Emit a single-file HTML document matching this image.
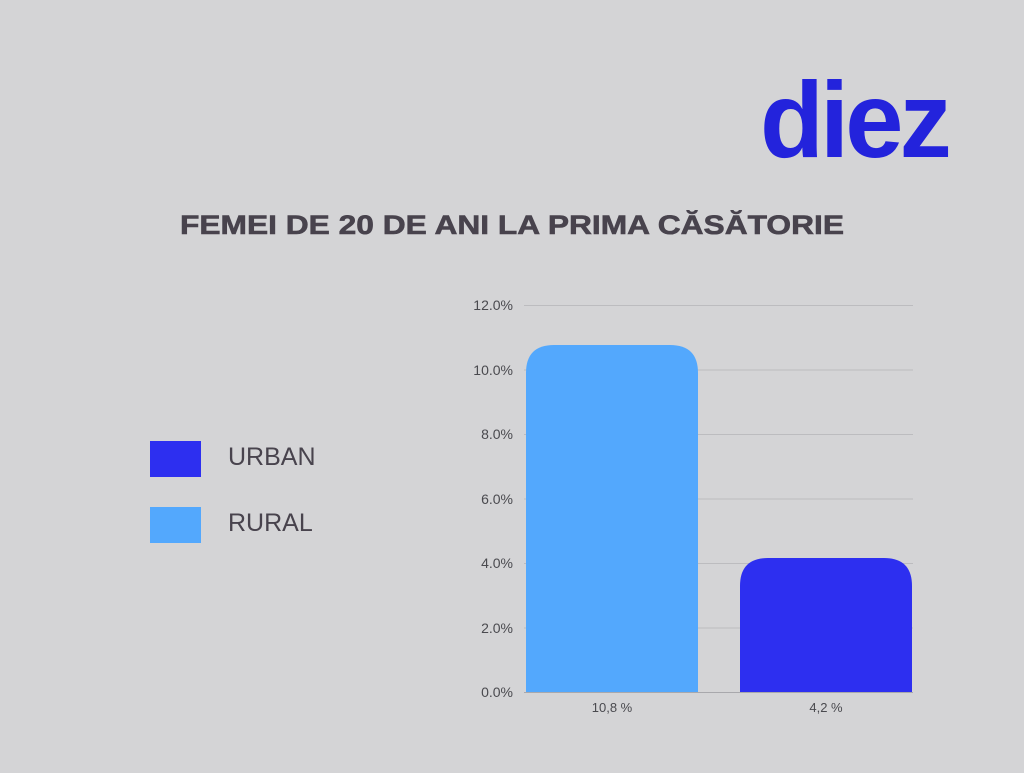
<!DOCTYPE html>
<html><head><meta charset="utf-8"><style>
body{margin:0;background:#d4d4d6;}
</style></head><body>
<svg width="1024" height="768" xmlns="http://www.w3.org/2000/svg" font-family="Liberation Sans, sans-serif">
<rect width="1024" height="768" fill="#d4d4d6"/>
<text x="760" y="157" font-size="108" font-weight="bold" fill="#2323dc" textLength="188" lengthAdjust="spacingAndGlyphs" letter-spacing="-4">diez</text>
<text x="512" y="234" text-anchor="middle" font-size="27" font-weight="bold" fill="#48434d" stroke="#48434d" stroke-width="0.6" textLength="664" lengthAdjust="spacingAndGlyphs">FEMEI DE 20 DE ANI LA PRIMA CĂSĂTORIE</text>
<g stroke="#bcbcbf" stroke-width="1">
<line x1="524" y1="305.5" x2="913" y2="305.5"/>
<line x1="524" y1="370" x2="913" y2="370"/>
<line x1="524" y1="434.5" x2="913" y2="434.5"/>
<line x1="524" y1="499" x2="913" y2="499"/>
<line x1="524" y1="563.5" x2="913" y2="563.5"/>
<line x1="524" y1="628" x2="913" y2="628"/>
</g>
<g font-size="14" fill="#4a4a4f" text-anchor="end">
<text x="513" y="310">12.0%</text>
<text x="513" y="375">10.0%</text>
<text x="513" y="439">8.0%</text>
<text x="513" y="504">6.0%</text>
<text x="513" y="568">4.0%</text>
<text x="513" y="633">2.0%</text>
<text x="513" y="697">0.0%</text>
</g>
<path d="M526 692 V373 Q526 345 554 345 H670 Q698 345 698 373 V692 Z" fill="#53a8fd"/>
<path d="M740 692 V586 Q740 558 768 558 H884 Q912 558 912 586 V692 Z" fill="#2d2ff0"/>
<line x1="524" y1="692.5" x2="913" y2="692.5" stroke="#a8a8ac" stroke-width="1"/>
<g font-size="13" fill="#4a4a4f" text-anchor="middle">
<text x="612" y="712">10,8 %</text>
<text x="826" y="712">4,2 %</text>
</g>
<rect x="150" y="441" width="51" height="36" fill="#2d2ff0"/>
<rect x="150" y="507" width="51" height="36" fill="#53a8fd"/>
<g font-size="25" fill="#48434d">
<text x="228" y="465">URBAN</text>
<text x="228" y="531">RURAL</text>
</g>
</svg>
</body></html>
